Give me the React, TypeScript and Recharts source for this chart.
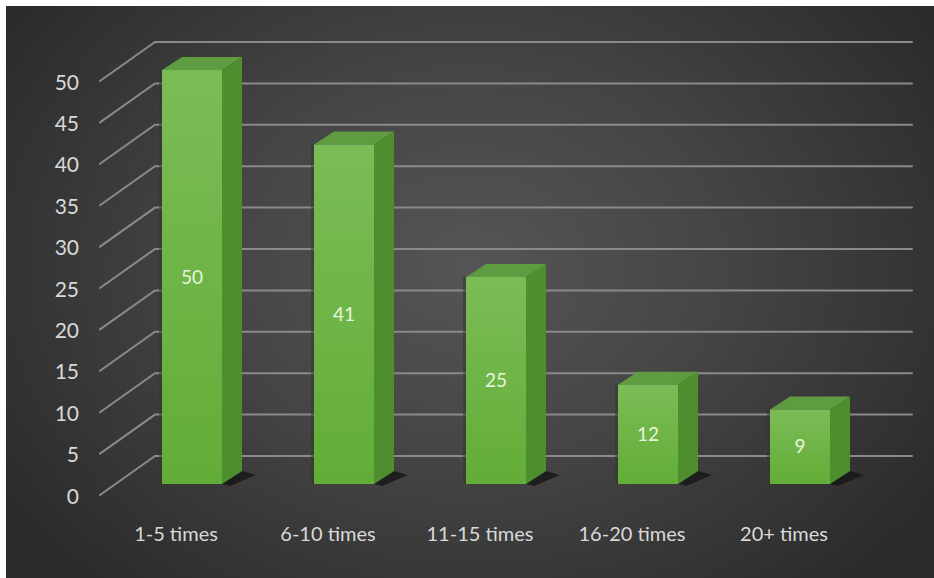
import React from 'react';
import {
  BarChart,
  Bar,
  XAxis,
  YAxis,
  CartesianGrid,
  LabelList
} from 'recharts';

const categories = ['1-5 times', '6-10 times', '11-15 times', '16-20 times', '20+ times'];
const counts = [50, 41, 25, 12, 9];
const yTicks = [0, 5, 10, 15, 20, 25, 30, 35, 40, 45, 50];

const chartData = categories.map((name, i) => ({ name, value: counts[i] }));

// 3D look: bars sit mid-depth, the floor front edge is below/left, the back wall above/right
const DEPTH_DX = 20;
const DEPTH_DY = 13;
const FRONT_DX = -16;
const FRONT_DY = 11;
const BACK_DX = 39;
const BACK_DY = -28;

const GRID_COLOR = '#8a8a8a';
const TEXT_COLOR = '#d9d9d9';
const FONT = 'Lato, "Open Sans", sans-serif';

// perspective grid line: short diagonal from the front edge up to the back wall, then across it
const GridLine = (props: any) => {
  const { x1, x2, y1 } = props;
  const d = `M${x1 + FRONT_DX},${y1 + FRONT_DY} L${x1 + BACK_DX},${y1 + BACK_DY} L${x2 + BACK_DX - 3},${y1 + BACK_DY}`;
  return <path d={d} stroke={GRID_COLOR} strokeWidth={2} fill="none" strokeLinecap="round" />;
};

const Bar3D = (props: any) => {
  const { x, y, width, height, index } = props;
  if (!height || height <= 0) return null;
  const bottom = y + height;
  const right = x + width;
  const gid = `front-${index}`;
  return (
    <g>
      <defs>
        <linearGradient id={gid} x1="0" y1="0" x2="0" y2="1">
          <stop offset="0%" stopColor="#7cbc57" />
          <stop offset="100%" stopColor="#62ad37" />
        </linearGradient>
      </defs>
      {/* floor shadow */}
      <polygon
        points={`${right},${bottom} ${right + DEPTH_DX},${bottom - DEPTH_DY} ${right + DEPTH_DX + 14},${bottom - DEPTH_DY + 4} ${right + 8},${bottom + 2}`}
        fill="#151515"
        opacity={0.8}
      />
      <rect x={x - 3} y={y} width={3} height={height} fill="#2d3a26" opacity={0.5} />
      {/* side */}
      <polygon
        points={`${right},${y} ${right + DEPTH_DX},${y - DEPTH_DY} ${right + DEPTH_DX},${bottom - DEPTH_DY} ${right},${bottom}`}
        fill="#4f8e2f"
      />
      {/* top */}
      <polygon
        points={`${x},${y} ${x + DEPTH_DX},${y - DEPTH_DY} ${right + DEPTH_DX},${y - DEPTH_DY} ${right},${y}`}
        fill="#5f9b40"
      />
      {/* front */}
      <rect x={x} y={y} width={width} height={height} fill={`url(#${gid})`} />
    </g>
  );
};

const YTick = (props: any) => {
  const { x, y, payload } = props;
  return (
    <text
      x={x - 37}
      y={y + FRONT_DY}
      textAnchor="end"
      dominantBaseline="central"
      fill={TEXT_COLOR}
      fontSize={21}
      fontFamily={FONT}
    >
      {payload.value}
    </text>
  );
};

const XTick = (props: any) => {
  const { x, y, payload } = props;
  return (
    <text
      x={x + FRONT_DX}
      y={y + 49}
      textAnchor="middle"
      dominantBaseline="central"
      fill={TEXT_COLOR}
      fontSize={20}
      fontFamily={FONT}
    >
      {payload.value}
    </text>
  );
};

const App = () => {
  return (
    <div>
      <style>{'body{margin:0;background:#fff;}'}</style>
      <div
        style={{
          position: 'absolute',
          left: 6,
          top: 6,
          width: 928,
          height: 572,
          background: 'radial-gradient(ellipse 60% 75% at 50% 45%, #555555 0%, #454545 45%, #2b2b2b 100%)'
        }}
      >
        <BarChart
          width={928}
          height={572}
          data={chartData}
          margin={{ top: 64, right: 58, bottom: 34, left: 0 }}
          barCategoryGap={46}
        >
          <CartesianGrid vertical={false} horizontal={(p: any) => <GridLine key={`g-${p.index}`} {...p} />} />
          <XAxis
            dataKey="name"
            height={60}
            axisLine={false}
            tickLine={false}
            tickSize={0}
            tickMargin={0}
            interval={0}
            tick={<XTick />}
          />
          <YAxis
            width={110}
            domain={[0, 50]}
            ticks={yTicks}
            axisLine={false}
            tickLine={false}
            tickSize={0}
            tickMargin={0}
            tick={<YTick />}
          />
          <Bar dataKey="value" shape={<Bar3D />} isAnimationActive={false}>
            <LabelList
              dataKey="value"
              position="center"
              fill="#e8f3df"
              fontSize={19}
              fontFamily={FONT}
            />
          </Bar>
        </BarChart>
      </div>
    </div>
  );
};

export default App;
